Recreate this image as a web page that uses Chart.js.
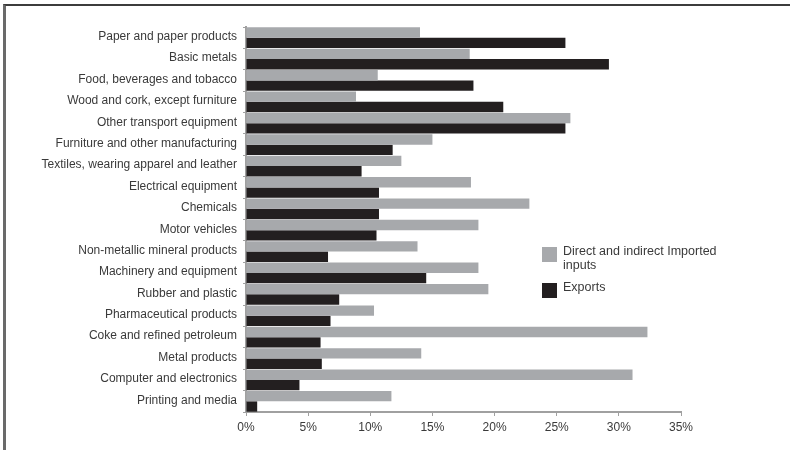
<!DOCTYPE html>
<html>
<head>
<meta charset="utf-8">
<script src="https://cdn.jsdelivr.net/npm/chart.js@4.4.0/dist/chart.umd.min.js"></script>
<style>
  html, body { margin: 0; padding: 0; background: #fff; }
  #wrap { position: relative; width: 790px; height: 450px; }
  #frame { position: absolute; left: 3px; top: 4px; width: 787px; height: 446px;
           border-top: 2px solid #3c3c3c; border-left: 3px solid #6a6a6a; box-sizing: border-box; pointer-events: none; }
  canvas { position: absolute; left: 0; top: 0; }
</style>
</head>
<body>
<div id="wrap">
  <canvas id="c" width="790" height="450"></canvas>
  <div id="frame"></div>
</div>
<script>
const categories = [
  "Paper and paper products",
  "Basic metals",
  "Food, beverages and tobacco",
  "Wood and cork, except furniture",
  "Other transport equipment",
  "Furniture and other manufacturing",
  "Textiles, wearing apparel and leather",
  "Electrical equipment",
  "Chemicals",
  "Motor vehicles",
  "Non-metallic mineral products",
  "Machinery and equipment",
  "Rubber and plastic",
  "Pharmaceutical products",
  "Coke and refined petroleum",
  "Metal products",
  "Computer and electronics",
  "Printing and media"
];
const importedInputs = [14.0, 18.0, 10.6, 8.85, 26.1, 15.0, 12.5, 18.1, 22.8, 18.7, 13.8, 18.7, 19.5, 10.3, 32.3, 14.1, 31.1, 11.7];
const exportsShare   = [25.7, 29.2, 18.3, 20.7, 25.7, 11.8, 9.3, 10.7, 10.7, 10.5, 6.6, 14.5, 7.5, 6.8, 6.0, 6.1, 4.3, 0.9];
const seriesLabels = ["Direct and indirect Imported inputs", "Exports"];
const xTicks = [0, 5, 10, 15, 20, 25, 30, 35];

const FONT = "'Liberation Sans', Arial, sans-serif";
const TEXT = '#3a3a3a';

const legendPlugin = {
  id: 'sideLegend',
  afterDraw(chart) {
    const ctx = chart.ctx;
    ctx.save();
    ctx.font = '12.5px ' + FONT;
    ctx.textBaseline = 'middle';
    const boxX = 542, textX = 563, maxW = 160;
    const starts = [247, 283];
    chart.data.datasets.forEach((ds, i) => {
      const y0 = starts[i];
      ctx.fillStyle = ds.backgroundColor;
      ctx.fillRect(boxX, y0, 15, 15);
      const words = ds.label.split(' ');
      const lines = [];
      let cur = '';
      words.forEach(w => {
        const t = cur ? cur + ' ' + w : w;
        if (ctx.measureText(t).width > maxW && cur) { lines.push(cur); cur = w; } else { cur = t; }
      });
      if (cur) lines.push(cur);
      ctx.fillStyle = TEXT;
      ctx.textAlign = 'left';
      lines.forEach((ln, j) => ctx.fillText(ln, textX, y0 + 5 + j * 14));
    });
    ctx.restore();
  }
};

new Chart(document.getElementById('c'), {
  type: 'bar',
  data: {
    labels: categories,
    datasets: [
      { label: seriesLabels[0], data: importedInputs, backgroundColor: '#a7a9ac', borderWidth: 0,
        barPercentage: 1.0, categoryPercentage: 0.97 },
      { label: seriesLabels[1], data: exportsShare, backgroundColor: '#231f20', borderWidth: 0,
        barPercentage: 1.0, categoryPercentage: 0.97 }
    ]
  },
  options: {
    indexAxis: 'y',
    responsive: false,
    animation: false,
    layout: { padding: { left: 10, right: 109, top: 27, bottom: 0 } },
    plugins: { legend: { display: false }, tooltip: { enabled: false } },
    scales: {
      x: {
        min: 0, max: 35,
        afterBuildTicks(scale) { scale.ticks = xTicks.map(v => ({ value: v })); },
        ticks: { callback: v => v + '%', color: TEXT, font: { family: FONT, size: 12 }, padding: 4, maxRotation: 0 },
        grid: { display: true, drawOnChartArea: false, drawTicks: true, tickLength: 4, color: '#a0a0a0', lineWidth: 1 },
        border: { display: true, color: '#a0a0a0', width: 2 },
        afterFit(scale) { scale.height = 38; }
      },
      y: {
        ticks: { color: TEXT, font: { family: FONT, size: 12 }, padding: 6, autoSkip: false, labelOffset: -1 },
        grid: { display: true, drawOnChartArea: false, drawTicks: true, tickLength: 3, color: '#a0a0a0', lineWidth: 1 },
        border: { display: true, color: '#a0a0a0', width: 2 },
        afterFit(scale) { scale.width = 236; }
      }
    }
  },
  plugins: [legendPlugin]
});
</script>
</body>
</html>
